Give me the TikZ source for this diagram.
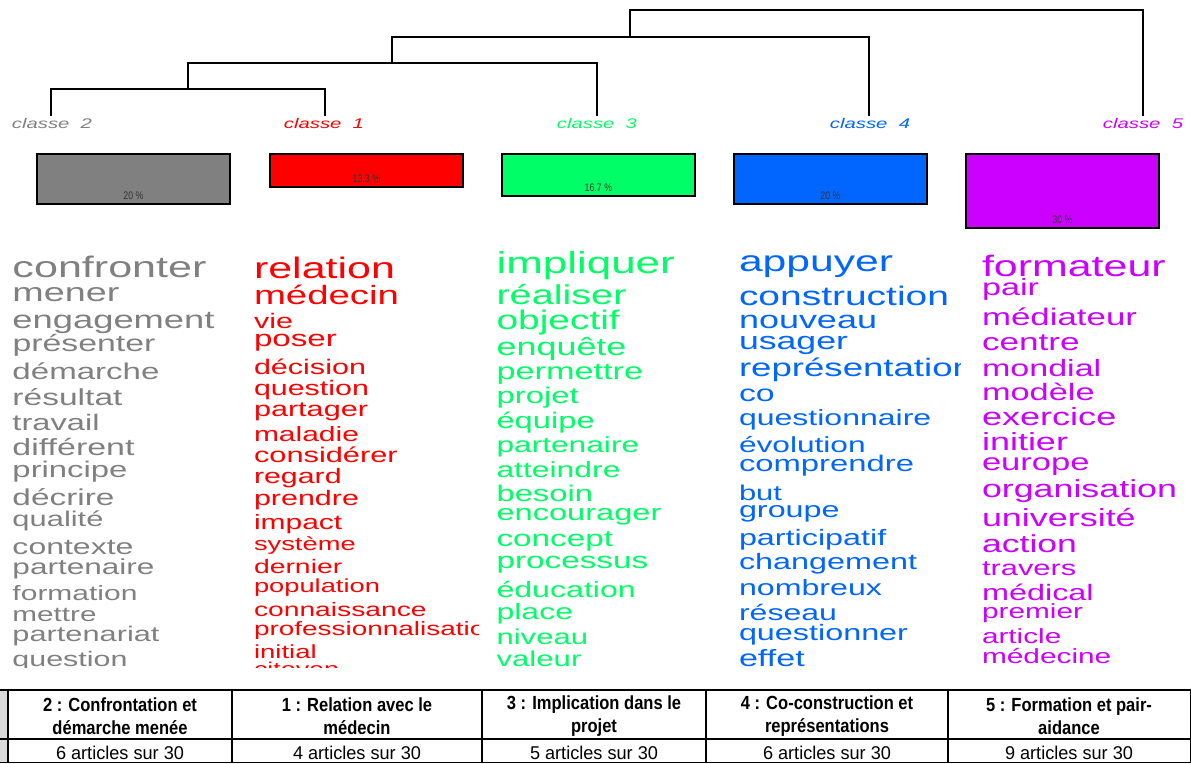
\documentclass[tikz,border=0pt]{standalone}
\usepackage{fontspec}
\usepackage{graphicx}
\setmainfont{Liberation Sans}
\newfontfamily\wf[FakeStretch=1.45]{Liberation Sans}
\newfontfamily\tabf[FakeStretch=0.87]{Liberation Sans}
\newfontfamily\rowf[FakeStretch=0.98]{Liberation Sans}
\newfontfamily\pctf[FakeStretch=0.8]{Liberation Sans}
\definecolor{cgray}{RGB}{128,128,128}
\definecolor{cred}{RGB}{255,0,0}
\definecolor{cgreen}{RGB}{0,255,102}
\definecolor{cblue}{RGB}{0,102,255}
\definecolor{cpurple}{RGB}{204,0,255}
\definecolor{lgray}{RGB}{217,217,217}
\tikzset{
  dend/.style={line width=1.4pt, black},
  clab/.style={anchor=base, inner sep=0pt, font=\wf\itshape\fontsize{14}{15}\selectfont},
  bar/.style={draw=black, line width=1.8pt, anchor=north west, minimum width=193pt, inner sep=0pt},
  pct/.style={anchor=base, inner sep=0pt, font=\pctf\fontsize{11}{12}\selectfont, text=black!80},
  word/.style={anchor=base west, inner sep=0pt, outer sep=0pt},
  tline/.style={line width=1.3pt, black},
  thead/.style={align=center, inner sep=0pt, font=\tabf\bfseries\fontsize{19}{23.5}\selectfont},
  trow/.style={anchor=base, inner sep=0pt, font=\rowf\fontsize{18.5}{19}\selectfont}
}
\begin{document}
\begin{tikzpicture}[x=1pt,y=-1pt]
\useasboundingbox (0,0) rectangle (1191,763);
% dendrogram
\coordinate (l2) at (51,116);
\coordinate (l1) at (325,116);
\coordinate (l3) at (597,116);
\coordinate (l4) at (869,116);
\coordinate (l5) at (1143,116);
\coordinate (n21) at (188,89);
\coordinate (n213) at (392,63);
\coordinate (n2134) at (630,37);
\coordinate (root) at (630,10);
\draw[dend] (l2) |- (n21) -| (l1);
\draw[dend] (n21) |- (n213) -| (l3);
\draw[dend] (n213) |- (n2134) -| (l4);
\draw[dend] (n2134) |- (root) -| (l5);
% class labels
\node[clab, text=cgray] (k2) at (52,128) {classe\ \ 2};
\node[clab, text=cred] (k1) at (324,128) {classe\ \ 1};
\node[clab, text=cgreen] (k3) at (597,128) {classe\ \ 3};
\node[clab, text=cblue] (k4) at (870,128) {classe\ \ 4};
\node[clab, text=cpurple] (k5) at (1143,128) {classe\ \ 5};
% bars
\node[bar, fill=cgray, minimum height=50pt] (b2) at (36,153) {};
\node[bar, fill=cred, minimum height=33pt] (b1) at (269,153) {};
\node[bar, fill=cgreen, minimum height=42pt] (b3) at (501,153) {};
\node[bar, fill=cblue, minimum height=50pt] (b4) at (733,153) {};
\node[bar, fill=cpurple, minimum height=74pt] (b5) at (965,153) {};
\node[pct] (p2) at ([yshift=5pt]b2.south) {20 \%};
\node[pct] (p1) at ([yshift=5pt]b1.south) {13.3 \%};
\node[pct] (p3) at ([yshift=5pt]b3.south) {16.7 \%};
\node[pct] (p4) at ([yshift=5pt]b4.south) {20 \%};
\node[pct] (p5) at ([yshift=5pt]b5.south) {30 \%};
% class 2 words
\begin{scope}
\clip (0,240) rectangle (242,667);
\foreach \txt/\y/\ww [count=\i] in {confronter/277.7/194, mener/301.7/107, engagement/328.3/202, présenter/351.7/143, démarche/379.3/147, résultat/405/110, travail/430/87, différent/455/122, principe/477.3/115, décrire/505/102, qualité/526.7/91, contexte/554/121, partenaire/574.3/142, formation/600/125, mettre/621.7/84, partenariat/641.7/147, question/666/115}
  \node[word, text=cgray] (wb\i) at (12.5,\y) {\resizebox{\ww pt}{!}{\wf \txt}};
\end{scope}
% class 1 words
\begin{scope}
\clip (245,240) rectangle (478,667);
\foreach \txt/\y/\ww [count=\i] in {relation/278.3/141, médecin/304/145, vie/328.3/39, poser/346.7/83, décision/374/112, question/395/115, partager/416.7/114, maladie/441/105, considérer/462.7/143.7, regard/483.3/87.7, prendre/505/105, impact/529.3/88.3, système/550/101.7, dernier/573.3/88.3, population/592.7/126, connaissance/616/172.7, professionnalisation/635/247, initial/658.3/62.7, citoyen/675/85}
  \node[word, text=cred] (wa\i) at (254,\y) {\resizebox{\ww pt}{!}{\wf \txt}};
\end{scope}
% class 3 words
\begin{scope}
\clip (485,240) rectangle (725,667);
\foreach \txt/\y/\ww [count=\i] in {impliquer/273.3/178.3, réaliser/304/130, objectif/329.3/123.3, enquête/355/130, permettre/379.3/146.7, projet/403.3/82.3, équipe/428.3/98.3, partenaire/452.3/142.7, atteindre/477.7/124, besoin/501.7/96.7, encourager/520.7/165, concept/546.7/116.7, processus/568.3/151.7, éducation/597.3/139.3, place/619.3/76.7, niveau/644/91.7, valeur/666.7/85}
  \node[word, text=cgreen] (wc\i) at (496.5,\y) {\resizebox{\ww pt}{!}{\wf \txt}};
\end{scope}
% class 4 words
\begin{scope}
\clip (730,240) rectangle (960,667);
\foreach \txt/\y/\ww [count=\i] in {appuyer/271.7/154, construction/305/210, nouveau/328.3/138, usager/349.3/109, représentation/376.7/234, co/401.7/35.7, questionnaire/425/192.3, évolution/452.3/126.7, comprendre/471.7/175, but/500/43, groupe/517.7/100.7, participatif/545/147.3, changement/569.3/178, nombreux/595/143, réseau/620/98, questionner/640/169, effet/666.7/65.7}
  \node[word, text=cblue] (wd\i) at (739,\y) {\resizebox{\ww pt}{!}{\wf \txt}};
\end{scope}
% class 5 words
\begin{scope}
\clip (965,240) rectangle (1191,667);
\foreach \txt/\y/\ww [count=\i] in {formateur/276.7/183.7, pair/295/57, médiateur/325/155, centre/350/97.7, mondial/376/119.3, modèle/400.7/112.7, exercice/425.7/134.3, initier/450/86, europe/470/107.7, organisation/497.3/195, université/526/153.7, action/552.7/95, travers/575/94.3, médical/600.7/111.7, premier/618.3/101, article/643.3/79.3, médecine/663.3/129.3}
  \node[word, text=cpurple] (we\i) at (982,\y) {\resizebox{\ww pt}{!}{\wf \txt}};
\end{scope}
% table
\fill[lgray] (0,690) rectangle (8,763);
\draw[tline] (0,690) -- (1191,690);
\draw[tline] (0,739) -- (1191,739);
\draw[tline] (0,762.4) -- (1191,762.4);
\foreach \xx in {8,232,482,706,948,1190.3}
  \draw[tline] (\xx,690) -- (\xx,763);
\node[thead] (h2) at (120,716) {2 : Confrontation et\\démarche menée};
\node[thead] (h1) at (357,716) {1 : Relation avec le\\médecin};
\node[thead] (h3) at (594,716) {3 : Implication dans le\\projet};
\node[thead] (h4) at (827,716) {4 : Co-construction et\\représentations};
\node[thead] (h5) at (1069,716) {5 : Formation et pair-\\aidance};
\node[trow] (r2) at (120,759.5) {6 articles sur 30};
\node[trow] (r1) at (357,759.5) {4 articles sur 30};
\node[trow] (r3) at (594,759.5) {5 articles sur 30};
\node[trow] (r4) at (827,759.5) {6 articles sur 30};
\node[trow] (r5) at (1069,759.5) {9 articles sur 30};
\end{tikzpicture}
\end{document}
